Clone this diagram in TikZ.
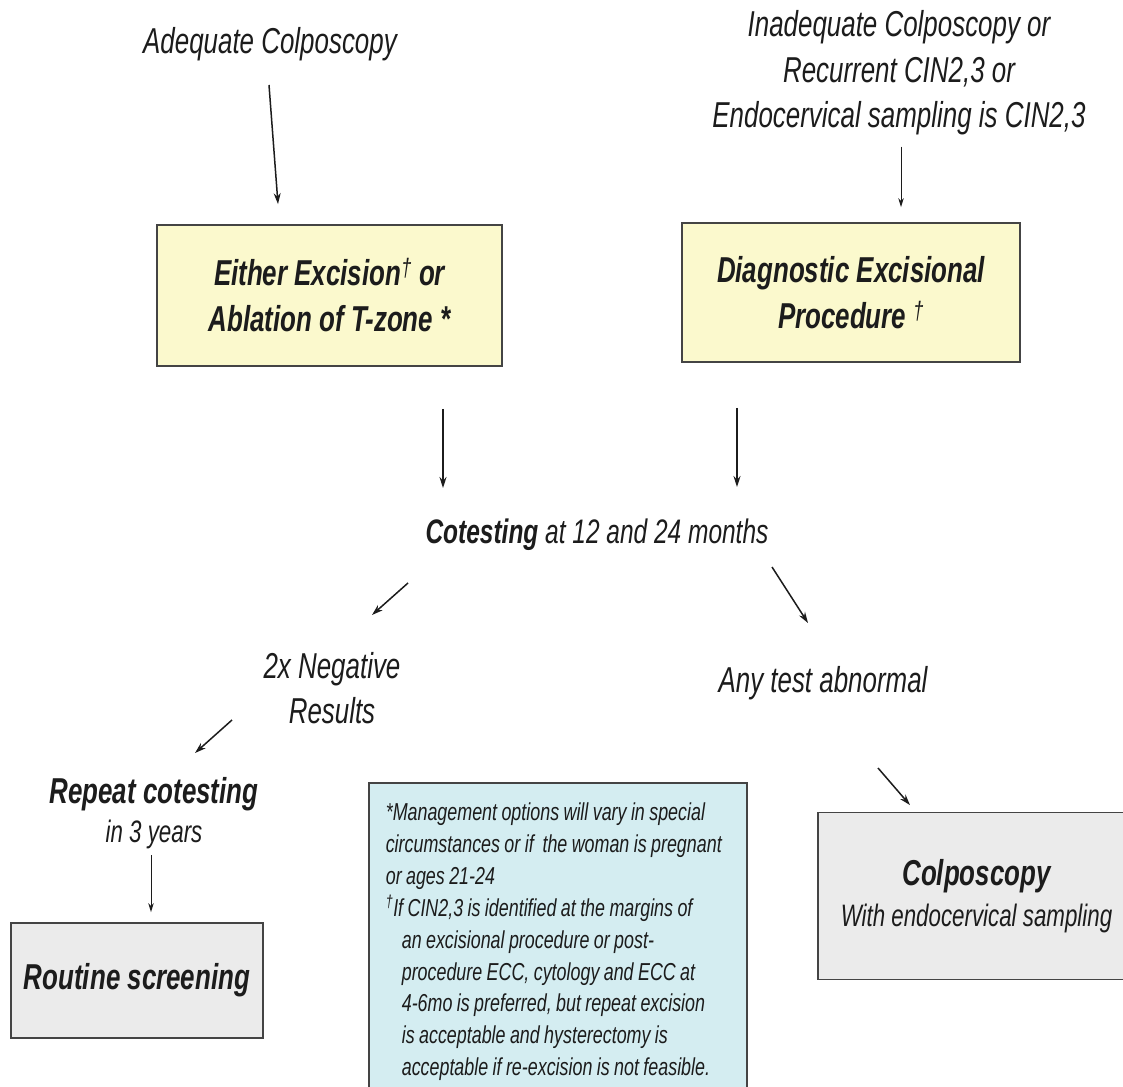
\documentclass[tikz,border=0pt]{standalone}
\usepackage{fontspec}
\setmainfont{Liberation Sans}[FakeStretch=0.72]
\newfontfamily\notefont{Liberation Sans}[FakeStretch=0.73]
\newcommand\tightwords{\spaceskip=4.4pt plus 1pt minus 1pt\relax}
\usetikzlibrary{arrows.meta,calc}
\definecolor{ink}{RGB}{28,28,28}
\definecolor{edge}{RGB}{68,68,68}
\definecolor{treatfill}{RGB}{251,249,205}
\definecolor{resultfill}{RGB}{235,235,235}
\definecolor{notefill}{RGB}{212,237,241}

\begin{document}
\begin{tikzpicture}[x=1pt,y=-1pt,
  txt/.style={inner sep=0pt, text=ink, font=\fontsize{36}{45.5}\selectfont\itshape},
  panel/.style={draw=edge, line width=1.8pt, inner sep=0pt, text=ink, align=center},
  arr/.style={draw=ink, line width=1.5pt, -{Stealth[length=11pt,width=7pt]}},
  thinarr/.style={draw=ink, line width=1pt, -{Stealth[length=9pt,width=5.5pt]}},
]
\fill[white] (0,0) rectangle (1123,1086);
\useasboundingbox (0,0) rectangle (1123,1086);

% entry conditions
\node[txt, anchor=base] (adq) at (270,54) {Adequate Colposcopy};
\node[txt, anchor=north, align=center] (inad) at (899,10.7)
  {Inadequate Colposcopy or\\Recurrent CIN2,3 or\\Endocervical sampling is CIN2,3};

% treatment boxes
\node[panel, fill=treatfill, minimum width=345, minimum height=141,
      font=\fontsize{36}{46}\selectfont\itshape\bfseries] (box1) at (329.5,295.5)
  {Either Excision\textsuperscript{\mdseries †} or\\Ablation of T-zone *};
\node[panel, fill=treatfill, minimum width=338, minimum height=139,
      font=\fontsize{36}{46}\selectfont\itshape\bfseries] (box2) at (851,292.5)
  {Diagnostic Excisional\\Procedure \textsuperscript{\mdseries †}};

% follow-up
\node[txt, anchor=base, font=\fontsize{34}{40}\selectfont\itshape] (cotest) at (597,543)
  {\textbf{Cotesting} at 12 and 24 months};
\node[txt, anchor=north, align=center] (neg) at (332,652) {2x Negative\\Results};
\node[txt, anchor=base] (abn) at (823,692) {Any test abnormal};
\node[txt, anchor=north, align=center, font=\fontsize{36}{39}\selectfont\itshape] (rep) at (154,777)
  {\textbf{Repeat cotesting}\\\fontsize{31}{39}\selectfont in 3 years};

% outcome boxes
\node[panel, fill=resultfill, minimum width=252, minimum height=115,
      font=\fontsize{36}{46}\selectfont\itshape\bfseries] (routine) at (137,980.5)
  {Routine screening};
\node[panel, fill=resultfill, minimum width=317, minimum height=167,
      font=\fontsize{36}{41}\selectfont\itshape] (colp) at (976.5,896)
  {\textbf{Colposcopy}\\\fontsize{31}{41}\selectfont With endocervical sampling};

% footnotes (tight word spacing)
\node[draw=edge, line width=1.6pt, fill=notefill, anchor=north west,
      inner xsep=17pt, inner ysep=20pt, text width=344pt, align=left, text=ink,
      font=\notefont\fontsize{24.5}{31.9}\selectfont\itshape] (note) at (368,782)
  {\tightwords\mbox{*Management options will vary in special}\\
   \mbox{circumstances or if\ \ the woman is pregnant}\\
   \mbox{or ages 21-24}\\
   \mbox{\textsuperscript{†}If CIN2,3 is identified at the margins of}\\
   \hspace*{16pt}\mbox{an excisional procedure or post-}\\
   \hspace*{16pt}\mbox{procedure ECC, cytology and ECC at}\\
   \hspace*{16pt}\mbox{4-6mo is preferred, but repeat excision}\\
   \hspace*{16pt}\mbox{is acceptable and hysterectomy is}\\
   \hspace*{16pt}\mbox{acceptable if re-excision is not feasible.}};

% connectors
\draw[arr] ($(adq.base)+(-1,31)$) -- ($(box1.north)+(-51.5,-20)$);
\draw[thinarr] ($(inad.south)+(2,11)$) -- ($(box2.north)+(50,-15)$);
\draw[arr] ($(box1.south)+(113.5,42)$) -- ($(cotest.base)+(-154,-55)$);
\draw[arr] ($(box2.south)+(-114,45)$) -- ($(cotest.base)+(140,-56)$);
\draw[arr] ($(cotest.base)+(-189,40)$) -- ($(neg.north)+(40,-37)$);
\draw[arr] ($(cotest.base)+(175,24)$) -- ($(abn.base)+(-15,-69)$);
\draw[arr] ($(neg.north)+(-100,68)$) -- ($(rep.north)+(41,-24)$);
\draw[arr] ($(abn.base)+(55,76)$) -- ($(colp.north)+(-66.5,-6.5)$);
\draw[thinarr] ($(rep.north)+(-3,78)$) -- ($(routine.north)+(14,-10)$);
\end{tikzpicture}
\end{document}
